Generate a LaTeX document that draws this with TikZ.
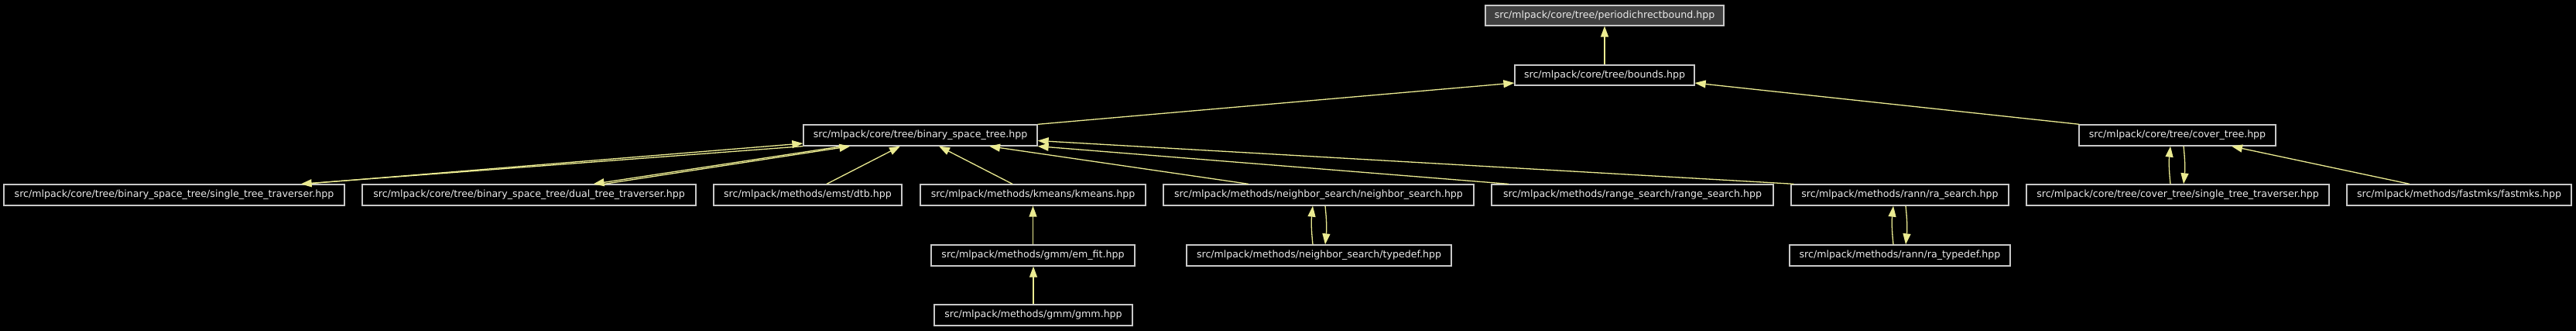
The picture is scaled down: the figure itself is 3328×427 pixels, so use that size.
\documentclass[tikz,border=0pt]{standalone}
\usepackage{fontspec}
\setmainfont{DejaVu Sans}
\usetikzlibrary{arrows.meta}
\definecolor{edgecol}{RGB}{235,235,145}
\definecolor{boxborder}{RGB}{200,200,200}
\definecolor{textcol}{RGB}{235,235,235}
\definecolor{hifill}{RGB}{64,64,64}
\tikzset{
  fbox/.style={draw=boxborder, line width=1.3pt, fill=black, text=textcol, inner sep=0pt,
    minimum height=27pt, font=\fontsize{12.6}{15}\selectfont},
  edge/.style={draw=edgecol, line width=1.3pt, -{Triangle[length=14pt,width=10pt]}},
}
\begin{document}
\begin{tikzpicture}[x=1pt,y=-1pt]
\fill[black] (0,0) rectangle (3328,427);
\useasboundingbox (0,0) rectangle (3328,427);
% row 1-3
\node[fbox, fill=hifill, minimum width=308pt, minimum height=26pt] (periodic) at (2073,20) {src/mlpack/core/tree/periodichrectbound.hpp};
\node[fbox, minimum width=232pt, minimum height=26pt] (bounds) at (2073,97) {src/mlpack/core/tree/bounds.hpp};
\node[fbox, minimum width=302pt] (binary) at (1189,174.5) {src/mlpack/core/tree/binary\_space\_tree.hpp};
\node[fbox, minimum width=254pt] (covertree) at (2813,174.5) {src/mlpack/core/tree/cover\_tree.hpp};
% row 4
\node[fbox, minimum width=440pt] (single) at (225,251.5) {src/mlpack/core/tree/binary\_space\_tree/single\_tree\_traverser.hpp};
\node[fbox, minimum width=431pt] (dual) at (683.5,251.5) {src/mlpack/core/tree/binary\_space\_tree/dual\_tree\_traverser.hpp};
\node[fbox, minimum width=243pt] (dtb) at (1043.5,251.5) {src/mlpack/methods/emst/dtb.hpp};
\node[fbox, minimum width=291pt] (kmeans) at (1334.5,251.5) {src/mlpack/methods/kmeans/kmeans.hpp};
\node[fbox, minimum width=401pt] (ns) at (1703.5,251.5) {src/mlpack/methods/neighbor\_search/neighbor\_search.hpp};
\node[fbox, minimum width=364pt] (range) at (2109,251.5) {src/mlpack/methods/range\_search/range\_search.hpp};
\node[fbox, minimum width=281pt] (rasearch) at (2454.5,251.5) {src/mlpack/methods/rann/ra\_search.hpp};
\node[fbox, minimum width=391pt] (coversingle) at (2813.5,251.5) {src/mlpack/core/tree/cover\_tree/single\_tree\_traverser.hpp};
\node[fbox, minimum width=290pt] (fastmks) at (3177,251.5) {src/mlpack/methods/fastmks/fastmks.hpp};
% row 5-6
\node[fbox, minimum width=263pt] (emfit) at (1334.5,329.5) {src/mlpack/methods/gmm/em\_fit.hpp};
\node[fbox, minimum width=342pt] (nstypedef) at (1704,329.5) {src/mlpack/methods/neighbor\_search/typedef.hpp};
\node[fbox, minimum width=285pt] (ratypedef) at (2454.5,329.5) {src/mlpack/methods/rann/ra\_typedef.hpp};
\node[fbox, minimum width=256pt] (gmm) at (1335,406.5) {src/mlpack/methods/gmm/gmm.hpp};
% edges
\draw[edge] (bounds.north) -- (periodic.south);
\draw[edge] (binary.north east) -- ([yshift=-10pt]bounds.west);
\draw[edge] ([xshift=1pt]covertree.north west) -- ([yshift=-10pt]bounds.east);
\draw[edge] ([xshift=-53pt]single.north east) -- ([yshift=-10.5pt]binary.west);
\draw[edge] (binary.south west) -- ([xshift=-57pt]single.north east);
\draw[edge] ([xshift=-119pt]dual.north east) -- ([xshift=61pt]binary.south west);
\draw[edge] ([xshift=51pt]binary.south west) -- ([xshift=-133pt]dual.north east);
\draw[edge] ([xshift=24.5pt]dtb.north) -- ([xshift=-26pt]binary.south);
\draw[edge] ([xshift=-26.5pt]kmeans.north) -- ([xshift=24pt]binary.south);
\draw[edge] ([xshift=-90.5pt]ns.north) -- ([xshift=89pt]binary.south);
\draw[edge] ([xshift=-160pt]range.north) -- (binary.south east);
\draw[edge] ([xshift=4pt]rasearch.north west) -- ([yshift=-7pt]binary.east);
\draw[edge] (emfit.north) -- (kmeans.south);
\draw[edge] (gmm.north) -- (gmm.north |- emfit.south);
\draw[edge] ([xshift=-8pt]nstypedef.north) to[bend left=6] ([xshift=-7.5pt]ns.south);
\draw[edge] ([xshift=8.5pt]ns.south) to[bend left=6] ([xshift=8pt]nstypedef.north);
\draw[edge] ([xshift=-8.5pt]ratypedef.north) to[bend left=6] ([xshift=-8.5pt]rasearch.south);
\draw[edge] ([xshift=7.5pt]rasearch.south) to[bend left=6] ([xshift=7.5pt]ratypedef.north);
\draw[edge] ([xshift=-9.5pt]coversingle.north) to[bend left=6] ([xshift=-9pt]covertree.south);
\draw[edge] ([xshift=8pt]covertree.south) to[bend left=6] ([xshift=7.5pt]coversingle.north);
\draw[edge] ([xshift=-64pt]fastmks.north) -- ([xshift=70pt]covertree.south);
\end{tikzpicture}
\end{document}
